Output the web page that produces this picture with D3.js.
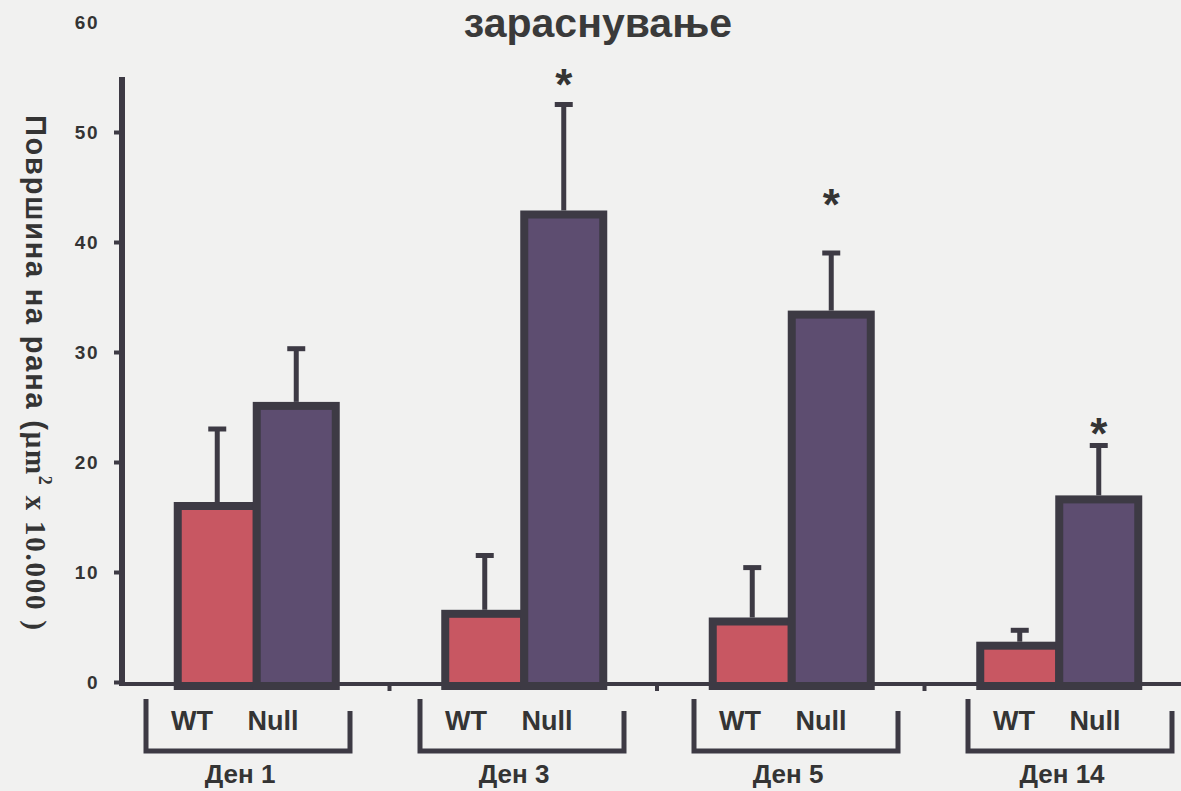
<!DOCTYPE html>
<html>
<head>
<meta charset="utf-8">
<script src="https://cdn.jsdelivr.net/npm/d3@7"></script>
<style>
  html, body { margin: 0; padding: 0; background: #f1f1f0; }
  svg { display: block; }
</style>
</head>
<body>
<svg id="chart" width="1181" height="791"></svg>
<script>
// Wound area per day, wild type vs. null
const days = ["Ден 1", "Ден 3", "Ден 5", "Ден 14"];
const groups = ["WT", "Null"];
const wtMeans = [16.0, 6.2, 5.5, 3.3];
const wtSD = [7.0, 5.3, 4.9, 1.4];
const nullMeans = [25.1, 42.5, 33.4, 16.6];
const nullSD = [5.2, 10.0, 5.6, 4.9];
// level (in axis units) of the significance mark; null = no mark
const starLevel = [null, 55.2, 44.3, 23.5];
const yTicks = [0, 10, 20, 30, 40, 50, 60];
const titleText = "зараснување";

const svg = d3.select("#chart");
const W = 1181, H = 791;

const colors = { WT: "#c85762", Null: "#5d4d70" };
const ink = "#3d3a44";
const textInk = "#343434";

svg.append("rect").attr("width", W).attr("height", H).attr("fill", "#f1f1f0");

const y = d3.scaleLinear().domain([0, 60]).range([682, 22]);
const x = d3.scaleBand().domain(days).range([122, 1192]);
const xg = d3.scaleBand().domain(groups).range([0, 158]);
const xb = d3.scaleBand().domain(days).range([111, 1207]); // bracket annotations

const rows = days.flatMap((d, i) => [
  { day: d, g: "WT", v: wtMeans[i], sd: wtSD[i] },
  { day: d, g: "Null", v: nullMeans[i], sd: nullSD[i] }
]);
const groupLeft = d => x(d) + x.bandwidth() / 2 - 78;

// title
svg.append("text")
  .attr("x", 598).attr("y", 37)
  .attr("text-anchor", "middle")
  .attr("font-family", "Liberation Sans, Arial, sans-serif")
  .attr("font-weight", "bold")
  .attr("font-size", 41)
  .attr("fill", "#3a3a3a")
  .text(titleText);

// y axis
const yAxis = d3.axisLeft(y).tickValues(yTicks).tickSize(8).tickPadding(15);
const ga = svg.append("g").attr("transform", "translate(122,0)").call(yAxis);
ga.select(".domain").remove();
ga.selectAll(".tick line").attr("stroke", ink).attr("stroke-width", 4)
  .filter(d => d === 60).remove();
ga.selectAll(".tick text")
  .attr("font-family", "Liberation Sans, Arial, sans-serif")
  .attr("font-weight", "bold")
  .attr("font-size", 19)
  .attr("letter-spacing", 1.5)
  .attr("fill", textInk);

// bars
svg.append("g").selectAll("rect").data(rows).join("rect")
  .attr("x", d => groupLeft(d.day) + xg(d.g))
  .attr("y", d => y(d.v))
  .attr("width", xg.bandwidth())
  .attr("height", d => y(0) - y(d.v) + 4)
  .attr("fill", d => colors[d.g])
  .attr("stroke", ink)
  .attr("stroke-width", 8);

// error bars (upper)
const eb = svg.append("g").attr("stroke", ink);
eb.selectAll("line.v").data(rows).join("line").attr("class", "v")
  .attr("x1", d => groupLeft(d.day) + xg(d.g) + xg.bandwidth() / 2)
  .attr("x2", d => groupLeft(d.day) + xg(d.g) + xg.bandwidth() / 2)
  .attr("y1", d => y(d.v) - 4)
  .attr("y2", d => y(d.v + d.sd))
  .attr("stroke-width", 5);
eb.selectAll("line.c").data(rows).join("line").attr("class", "c")
  .attr("x1", d => groupLeft(d.day) + xg(d.g) + xg.bandwidth() / 2 - 9)
  .attr("x2", d => groupLeft(d.day) + xg(d.g) + xg.bandwidth() / 2 + 9)
  .attr("y1", d => y(d.v + d.sd))
  .attr("y2", d => y(d.v + d.sd))
  .attr("stroke-width", 5);

// significance marks
svg.append("g").selectAll("text")
  .data(days.map((d, i) => ({ day: d, lvl: starLevel[i] })).filter(d => d.lvl !== null))
  .join("text")
  .attr("x", d => groupLeft(d.day) + xg("Null") + xg.bandwidth() / 2)
  .attr("y", d => y(d.lvl) + 25)
  .attr("text-anchor", "middle")
  .attr("font-family", "Liberation Sans, Arial, sans-serif")
  .attr("font-weight", "bold")
  .attr("font-size", 44)
  .attr("fill", textInk)
  .text("*");

// axis lines
svg.append("line").attr("x1", 122).attr("x2", 122).attr("y1", y(55)).attr("y2", y(0) + 4)
  .attr("stroke", ink).attr("stroke-width", 6);
svg.append("line").attr("x1", 119).attr("x2", W).attr("y1", y(0) + 2).attr("y2", y(0) + 2)
  .attr("stroke", ink).attr("stroke-width", 4);
svg.append("g").selectAll("line").data(days.slice(1)).join("line")
  .attr("x1", d => x(d)).attr("x2", d => x(d))
  .attr("y1", y(0) + 2).attr("y2", y(0) + 9)
  .attr("stroke", ink).attr("stroke-width", 4);

// y axis title
const yt = svg.append("text")
  .attr("transform", "translate(26,115) rotate(90)")
  .attr("font-weight", "bold")
  .attr("font-size", 29)
  .attr("fill", textInk)
  .attr("textLength", 515)
  .attr("lengthAdjust", "spacing");
yt.append("tspan").attr("font-family", "Liberation Sans, Arial, sans-serif").text("Површина на рана (");
yt.append("tspan").attr("font-family", "Liberation Serif, Times New Roman, serif").text("μm");
yt.append("tspan").attr("font-family", "Liberation Serif, Times New Roman, serif")
  .attr("font-size", 18).attr("dy", -13).text("2");
yt.append("tspan").attr("font-family", "Liberation Serif, Times New Roman, serif")
  .attr("dy", 13).text(" x 10.000 )");

// group brackets and labels
const br = svg.append("g");
days.forEach(d => {
  const c = xb(d) + xb.bandwidth() / 2;
  const l = c - 102, r = c + 102;
  br.append("path")
    .attr("d", `M${l},699 L${l},751 L${r},751 L${r},711`)
    .attr("fill", "none").attr("stroke", ink).attr("stroke-width", 5);
  br.append("text").attr("x", c - 56).attr("y", 730).attr("text-anchor", "middle")
    .attr("font-family", "Liberation Sans, Arial, sans-serif").attr("font-weight", "bold")
    .attr("font-size", 27).attr("fill", textInk).text(groups[0]);
  br.append("text").attr("x", c + 25).attr("y", 730).attr("text-anchor", "middle")
    .attr("font-family", "Liberation Sans, Arial, sans-serif").attr("font-weight", "bold")
    .attr("font-size", 27).attr("fill", textInk).text(groups[1]);
  br.append("text").attr("x", c - 8).attr("y", 783).attr("text-anchor", "middle")
    .attr("font-family", "Liberation Sans, Arial, sans-serif").attr("font-weight", "bold")
    .attr("font-size", 26).attr("fill", textInk).text(d);
});
</script>
</body>
</html>
